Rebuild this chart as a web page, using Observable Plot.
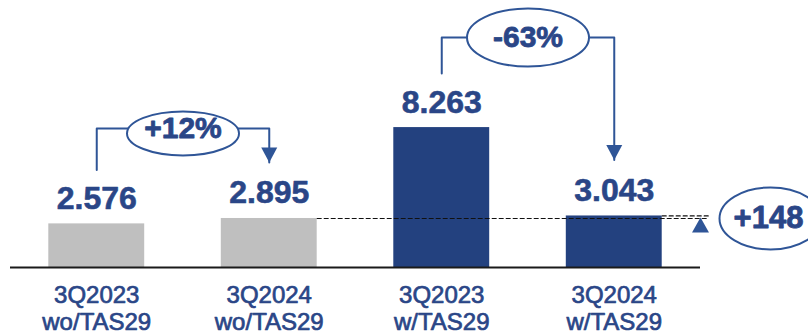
<!DOCTYPE html>
<html><head><meta charset="utf-8">
<script src="https://cdn.jsdelivr.net/npm/d3@7"></script>
<script src="https://cdn.jsdelivr.net/npm/@observablehq/plot@0.6"></script>
<style>html,body{margin:0;padding:0;background:#fff;} #chart svg{display:block;}</style>
</head><body><div id="chart"></div>
<script>
// ---- data ----
const categories = ["3Q2023\nwo/TAS29", "3Q2024\nwo/TAS29", "3Q2023\nw/TAS29", "3Q2024\nw/TAS29"];
const values = [2.576, 2.895, 8.263, 3.043];
const valueLabels = ["2.576", "2.895", "8.263", "3.043"];
const groups = ["wo/TAS29", "wo/TAS29", "w/TAS29", "w/TAS29"];
const changeFrom = [0, 2];
const changeTo = [1, 3];
const changeLabels = ["+12%", "-63%"];
const gapFrom = 1, gapTo = 3;
const gapLabel = "+148";

// ---- layout / style ----
const W = 808, H = 335, mL = 10, mR = 108, mT = 13, mB = 68;
const yMax = 15;
const pxPerUnit = (H - mT - mB) / yMax;
const u = p => p / pxPerUnit;       // pixels -> data units
const hw = 0.278;                    // half bar width (x units)
const navy = "#23417f", gray = "#bfbfbf", txt = "#2a4687", acc = "#2f5597";
const font = "'Liberation Sans', Arial, sans-serif";

function ellipse(rx, ry) {
  const k = 0.5522847498;
  return {draw(c) {
    c.moveTo(rx, 0);
    c.bezierCurveTo(rx, ry * k, rx * k, ry, 0, ry);
    c.bezierCurveTo(-rx * k, ry, -rx, ry * k, -rx, 0);
    c.bezierCurveTo(-rx, -ry * k, -rx * k, -ry, 0, -ry);
    c.bezierCurveTo(rx * k, -ry, rx, -ry * k, rx, 0);
    c.closePath();
  }};
}
const triDown = {draw(c) { c.moveTo(-8, -15); c.lineTo(8, -15); c.lineTo(0, 0); c.closePath(); }};
const triUp = {draw(c) { c.moveTo(0, 0); c.lineTo(8.5, 15); c.lineTo(-8.5, 15); c.closePath(); }};

const bars = categories.map((c, i) => ({i, c, v: values[i], label: valueLabels[i], g: groups[i]}));

const changes = changeFrom.map((f, k) => {
  const t = changeTo[k];
  const level = Math.max(values[f], values[t]) + u(90);
  return {k, f, t, level, label: changeLabels[k], mid: (f + t) / 2,
    pts: [
      {k, x: f, y: values[f] + u(54)},
      {k, x: f, y: level},
      {k, x: t, y: level},
      {k, x: t, y: values[t] + u(56)}
    ]};
});
const ellSizes = [[56, 22], [61, 29]];

const xEnd = 3.55;
const dashes = [
  {id: 0, x: gapFrom + hw, y: values[gapFrom]}, {id: 0, x: xEnd, y: values[gapFrom]},
  {id: 1, x: gapTo + hw, y: values[gapTo]}, {id: 1, x: xEnd, y: values[gapTo]}
];

const marks = [
  Plot.rectY(bars, {x1: d => d.i - hw, x2: d => d.i + hw, y: "v", fill: "g"}),
  Plot.line(dashes, {x: "x", y: "y", z: "id", stroke: "#111", strokeWidth: 1.2, strokeDasharray: "4,3"}),
  Plot.ruleY([0], {stroke: "#1a1a1a", strokeWidth: 2}),
  Plot.text(bars, {x: "i", y: "v", text: "label", dy: -15, lineAnchor: "bottom", fill: txt,
    stroke: txt, strokeWidth: 0.6, fontSize: 32, fontWeight: "bold", fontFamily: font}),
  Plot.text(bars, {x: "i", y: 0, text: "c", dy: 16, lineAnchor: "top", lineHeight: 1.14, fill: txt,
    stroke: txt, strokeWidth: 0.7, fontSize: 24, fontFamily: font}),
  Plot.line(changes.flatMap(c => c.pts), {x: "x", y: "y", z: "k", stroke: acc, strokeWidth: 2}),
  Plot.dot(changes, {x: "t", y: d => values[d.t] + u(56), symbol: triDown, fill: acc, stroke: null}),
  ...changes.map((c, k) => Plot.dot([c], {x: "mid", y: "level", dy: k === 0 ? 5 : 0,
    symbol: ellipse(...ellSizes[k]), fill: "white", stroke: acc, strokeWidth: 2})),
  Plot.text(changes, {x: "mid", y: "level", text: "label", lineAnchor: "middle", fill: txt,
    stroke: txt, strokeWidth: 0.8, fontSize: 30, fontWeight: "bold", fontFamily: font}),
  Plot.dot([{x: 3.5, y: values[gapTo]}], {x: "x", y: "y", dy: 1.5, symbol: triUp, fill: acc, stroke: null}),
  Plot.dot([{x: 3.5, y: values[gapFrom]}], {x: "x", y: "y", dx: 70, symbol: ellipse(51, 31),
    fill: "white", stroke: acc, strokeWidth: 2}),
  Plot.text([{x: 3.5, y: values[gapFrom], label: gapLabel}], {x: "x", y: "y", dx: 68, text: "label",
    lineAnchor: "middle", fill: txt, stroke: txt, strokeWidth: 0.8, fontSize: 31, fontWeight: "bold", fontFamily: font})
];

const chart = Plot.plot({
  width: W, height: H,
  marginLeft: mL, marginRight: mR, marginTop: mT, marginBottom: mB,
  x: {type: "linear", domain: [-0.5, 3.5], axis: null},
  y: {domain: [0, yMax], axis: null},
  color: {domain: ["wo/TAS29", "w/TAS29"], range: [gray, navy]},
  style: {fontFamily: font, background: "white", overflow: "visible"},
  marks
});
document.getElementById("chart").append(chart);
</script>
</body></html>
